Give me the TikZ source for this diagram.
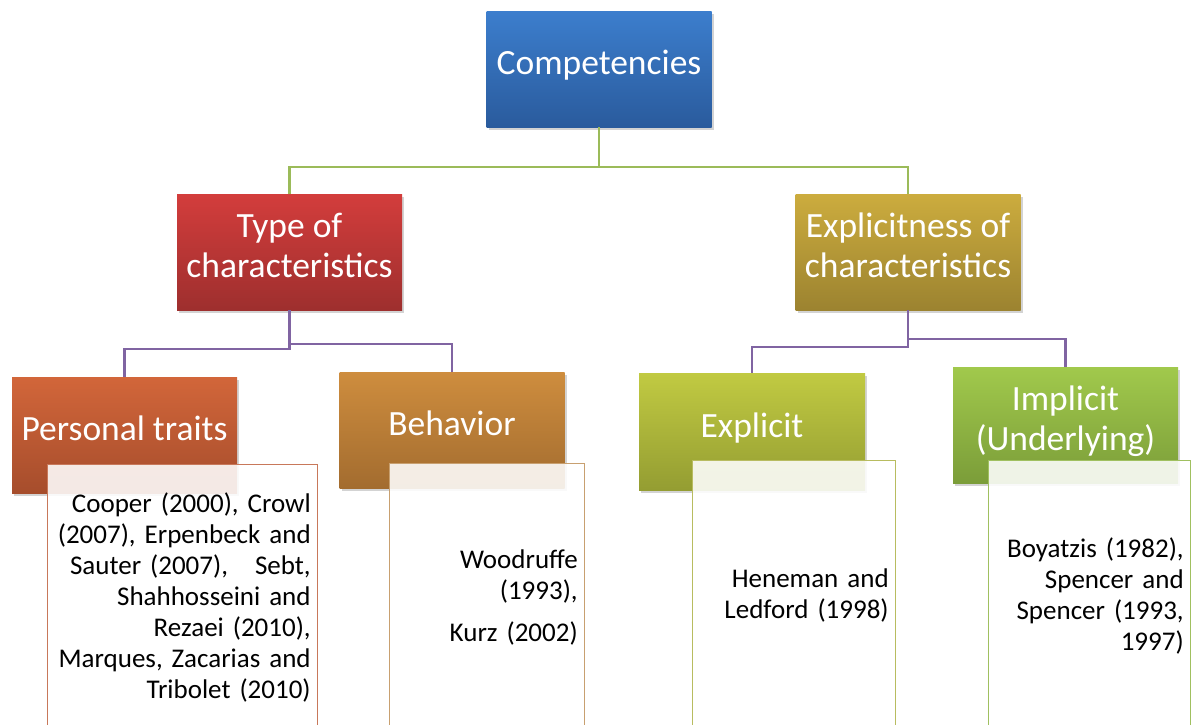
\documentclass[tikz,border=0pt]{standalone}
\usepackage{fontspec}
\setmainfont{Carlito}
\usetikzlibrary{positioning, shadows}

\definecolor{linkgreen}{HTML}{9BBB59}
\definecolor{linkpurple}{HTML}{8064A2}

\begin{document}
\begin{tikzpicture}[
        x=1pt, y=-1pt,
        topic/.style={rectangle, minimum width=225pt, minimum height=116pt, inner sep=2pt,
            align=center, text=white, font=\fontsize{35.5}{40}\selectfont,
            execute at end node={\rule[-13pt]{0pt}{1pt}},
            drop shadow={shadow xshift=2pt, shadow yshift=-3pt, opacity=0.35}},
        refbox/.style={rectangle, draw, line width=1.4pt, fill=white, fill opacity=0.88,
            text opacity=1, text=black, align=right, anchor=north west,
            inner xsep=7pt, font=\fontsize{27}{31}\selectfont},
        greenlink/.style={draw=linkgreen, line width=2.4pt},
        purplelink/.style={draw=linkpurple, line width=2.4pt},
    ]
    \useasboundingbox (0,0) rectangle (1198,724);
    \clip (0,0) rectangle (1198,724);

    % top level
    \node[topic, top color={rgb,255:red,60;green,126;blue,205}, bottom color={rgb,255:red,42;green,91;blue,157}]
        (comp) at (599,69) {Competencies};

    % second level
    \node[topic, top color={rgb,255:red,211;green,61;blue,60}, bottom color={rgb,255:red,158;green,47;blue,46}]
        (type) at (289.5,252) {Type of\\characteristics};
    \node[topic, top color={rgb,255:red,204;green,172;blue,62}, bottom color={rgb,255:red,156;green,131;blue,48}]
        (expl) at (908,252) {Explicitness of\\characteristics};

    % third level
    \node[topic, top color={rgb,255:red,210;green,102;blue,58}, bottom color={rgb,255:red,166;green,77;blue,44}]
        (pers) at (124.5,435) {Personal traits};
    \node[topic, top color={rgb,255:red,206;green,141;blue,62}, bottom color={rgb,255:red,163;green,108;blue,47}]
        (behav) at (452,430) {Behavior};
    \node[topic, minimum width=226pt, minimum height=117pt,
        top color={rgb,255:red,193;green,202;blue,66}, bottom color={rgb,255:red,148;green,157;blue,50}]
        (explicit) at (752,431.5) {Explicit};
    \node[topic, top color={rgb,255:red,161;green,201;blue,76}, bottom color={rgb,255:red,123;green,157;blue,57}]
        (implicit) at (1065.5,425) {Implicit\\(Underlying)};

    % reference boxes
    \node[refbox, draw={rgb,255:red,200;green,120;blue,90}, text width=256pt, minimum width=270pt, minimum height=266pt]
        (persref) at (47,464) {Cooper (2000), Crowl\\(2007), Erpenbeck and\\Sauter (2007),\quad Sebt,\\Shahhosseini and\\Rezaei (2010),\\Marques, Zacarias and\\Tribolet (2010)};
    \node[refbox, draw={rgb,255:red,200;green,160;blue,112}, text width=181pt, minimum width=195pt, minimum height=267pt]
        (behavref) at (389,463) {Woodruffe\\(1993),\\[11pt]Kurz (2002)};
    \node[refbox, draw={rgb,255:red,184;green,188;blue,96}, text width=189pt, minimum width=203pt, minimum height=270pt]
        (explref) at (692,460) {Heneman and\\Ledford (1998)};
    \node[refbox, draw={rgb,255:red,160;green,192;blue,96}, text width=188pt, minimum width=202pt, minimum height=270pt]
        (implref) at (988,460) {Boyatzis (1982),\\Spencer and\\Spencer (1993,\\1997)};

    % connectors
    \coordinate (j1) at (599,167);
    \draw[greenlink] (comp.south) -- (j1) -| (type.north);
    \draw[greenlink] (j1) -| (expl.north);

    \coordinate (j2) at (289.5,349);
    \coordinate (j3) at (289.5,344);
    \draw[purplelink] (type.south) -- (j2) -| (pers.north);
    \draw[purplelink] (j3) -| (behav.north);

    \coordinate (j4) at (908,347);
    \coordinate (j5) at (908,339);
    \draw[purplelink] (expl.south) -- (j4) -| (explicit.north);
    \draw[purplelink] (j5) -| (implicit.north);
\end{tikzpicture}
\end{document}
